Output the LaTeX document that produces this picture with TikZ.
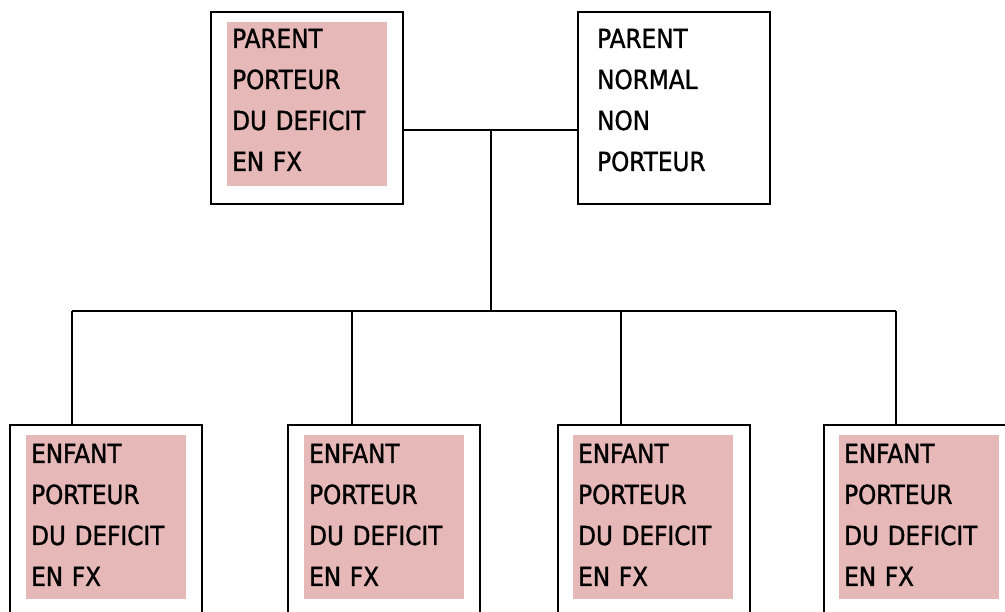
\documentclass[tikz,border=0pt]{standalone}
\usepackage{fontspec}
\setmainfont{DejaVu Sans}[FakeStretch=0.88,FakeBold=1.2]
\definecolor{pinkfill}{RGB}{230,184,183}
\begin{document}
\begin{tikzpicture}[x=1pt,y=-1pt,
  box/.style={draw=black,line width=1.6pt,anchor=north west,minimum width=192pt,minimum height=192pt,inner sep=0pt},
  pinkbg/.style={fill=pinkfill,anchor=north west,minimum width=160pt,minimum height=164pt,inner sep=0pt},
  lbl/.style={anchor=base west,inner sep=0pt,align=left,text width=170pt,font=\fontsize{26.3}{41}\selectfont},
  conn/.style={line width=1.6pt}]
\useasboundingbox (0,0) rectangle (1005,612);
\clip (0,0) rectangle (1005,612);
% top boxes
\node[box] (pl) at (210,11) {};
\node[pinkbg] (plbg) at (227,22) {};
\node[lbl] (pltxt) at (232,48) {PARENT\\PORTEUR\\DU DEFICIT\\EN FX};
\node[box] (pr) at (577,11) {};
\node[lbl] (prtxt) at (597,48) {PARENT\\NORMAL\\NON\\PORTEUR};
% bottom boxes
\node[box] (c1) at (9,424) {};
\node[pinkbg] (c1bg) at (26,435) {};
\node[lbl] (c1txt) at (31,463) {ENFANT\\PORTEUR\\DU DEFICIT\\EN FX};
\node[box] (c2) at (287,424) {};
\node[pinkbg] (c2bg) at (304,435) {};
\node[lbl] (c2txt) at (309,463) {ENFANT\\PORTEUR\\DU DEFICIT\\EN FX};
\node[box] (c3) at (557,424) {};
\node[pinkbg] (c3bg) at (573,435) {};
\node[lbl] (c3txt) at (578,463) {ENFANT\\PORTEUR\\DU DEFICIT\\EN FX};
\node[box] (c4) at (823,424) {};
\node[pinkbg] (c4bg) at (839,435) {};
\node[lbl] (c4txt) at (844,463) {ENFANT\\PORTEUR\\DU DEFICIT\\EN FX};
% connectors
\coordinate (j) at (491,130);
\coordinate (bus) at (491,311);
\coordinate (t1) at (72,311);
\coordinate (t2) at (352,311);
\coordinate (t3) at (621,311);
\coordinate (t4) at (896,311);
\draw[conn] (pl.east |- j) -- (pr.west |- j);
\draw[conn] (j) -- (bus);
\draw[conn] (t1) -- (t4);
\draw[conn] (t1) -- (t1 |- c1.north);
\draw[conn] (t2) -- (t2 |- c2.north);
\draw[conn] (t3) -- (t3 |- c3.north);
\draw[conn] (t4) -- (t4 |- c4.north);
\end{tikzpicture}
\end{document}
